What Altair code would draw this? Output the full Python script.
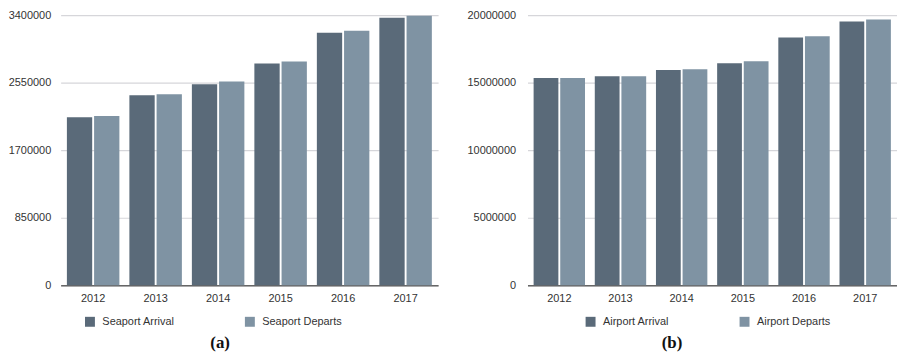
import altair as alt
import pandas as pd

years = ["2012", "2013", "2014", "2015", "2016", "2017"]
seaport_arrival = [2116000, 2391000, 2529000, 2791000, 3179000, 3366000]
seaport_departs = [2129000, 2404000, 2566000, 2816000, 3204000, 3391000]
airport_arrival = [15340000, 15480000, 15930000, 16440000, 18350000, 19530000]
airport_departs = [15340000, 15480000, 16000000, 16590000, 18430000, 19680000]

sea_series = ["Seaport Arrival", "Seaport Departs"]
air_series = ["Airport Arrival", "Airport Departs"]
sea_ticks = [0, 850000, 1700000, 2550000, 3400000]
air_ticks = [0, 5000000, 10000000, 15000000, 20000000]
colors = ["#5a6a79", "#7f93a3"]

def frame(series, a, d):
    rows = []
    for y, va, vd in zip(years, a, d):
        rows.append({"year": y, "series": series[0], "value": va})
        rows.append({"year": y, "series": series[1], "value": vd})
    return pd.DataFrame(rows)

def panel(df, series, ticks, width, caption, legend_x, cap_dx, label_pad):
    return alt.Chart(df).mark_bar().encode(
        x=alt.X("year:N", title=None,
                scale=alt.Scale(paddingInner=0.16, paddingOuter=0.1),
                axis=alt.Axis(labelAngle=0, ticks=False, tickSize=0, labelPadding=7,
                              domainColor="#666666", domainWidth=1.5, grid=False)),
        xOffset=alt.XOffset("series:N", sort=series,
                            scale=alt.Scale(domain=series, paddingInner=0.07,
                                            paddingOuter=0)),
        y=alt.Y("value:Q", title=None,
                scale=alt.Scale(domain=[ticks[0], ticks[-1]], nice=False),
                axis=alt.Axis(values=ticks, format="d", domain=False, ticks=False,
                              tickSize=0, labelPadding=label_pad,
                              gridColor="#d6d6da", gridWidth=1.2)),
        color=alt.Color("series:N", sort=series,
                        scale=alt.Scale(domain=series, range=colors),
                        legend=alt.Legend(title=None, orient="none",
                                          legendX=legend_x, legendY=303,
                                          direction="horizontal",
                                          symbolType="square", symbolSize=100,
                                          symbolStrokeWidth=0, symbolOpacity=1,
                                          labelFontSize=11, labelOffset=7,
                                          labelColor="#333333",
                                          labelFont="Liberation Sans",
                                          columnPadding=70)),
    ).properties(
        width=width, height=272,
        title=alt.TitleParams(caption, orient="bottom", anchor="middle",
                              frame="bounds", offset=8, dx=cap_dx,
                              font="Liberation Serif", fontSize=17,
                              fontWeight="bold", color="#111111"),
    )

left = panel(frame(sea_series, seaport_arrival, seaport_departs), sea_series,
             sea_ticks, 380, "(a)", 24, -3, 10)
right = panel(frame(air_series, airport_arrival, airport_departs), air_series,
              air_ticks, 372, "(b)", 58, -10, 12)

chart = alt.hconcat(left, right, spacing=29).resolve_scale(
    color="independent", y="independent", x="independent", xOffset="independent"
).properties(padding=0).configure_view(stroke=None).configure_axis(
    labelFont="Liberation Sans", labelFontSize=11, labelColor="#333333"
)

chart.save("out.html", embed_options={"renderer": "svg", "actions": False})
